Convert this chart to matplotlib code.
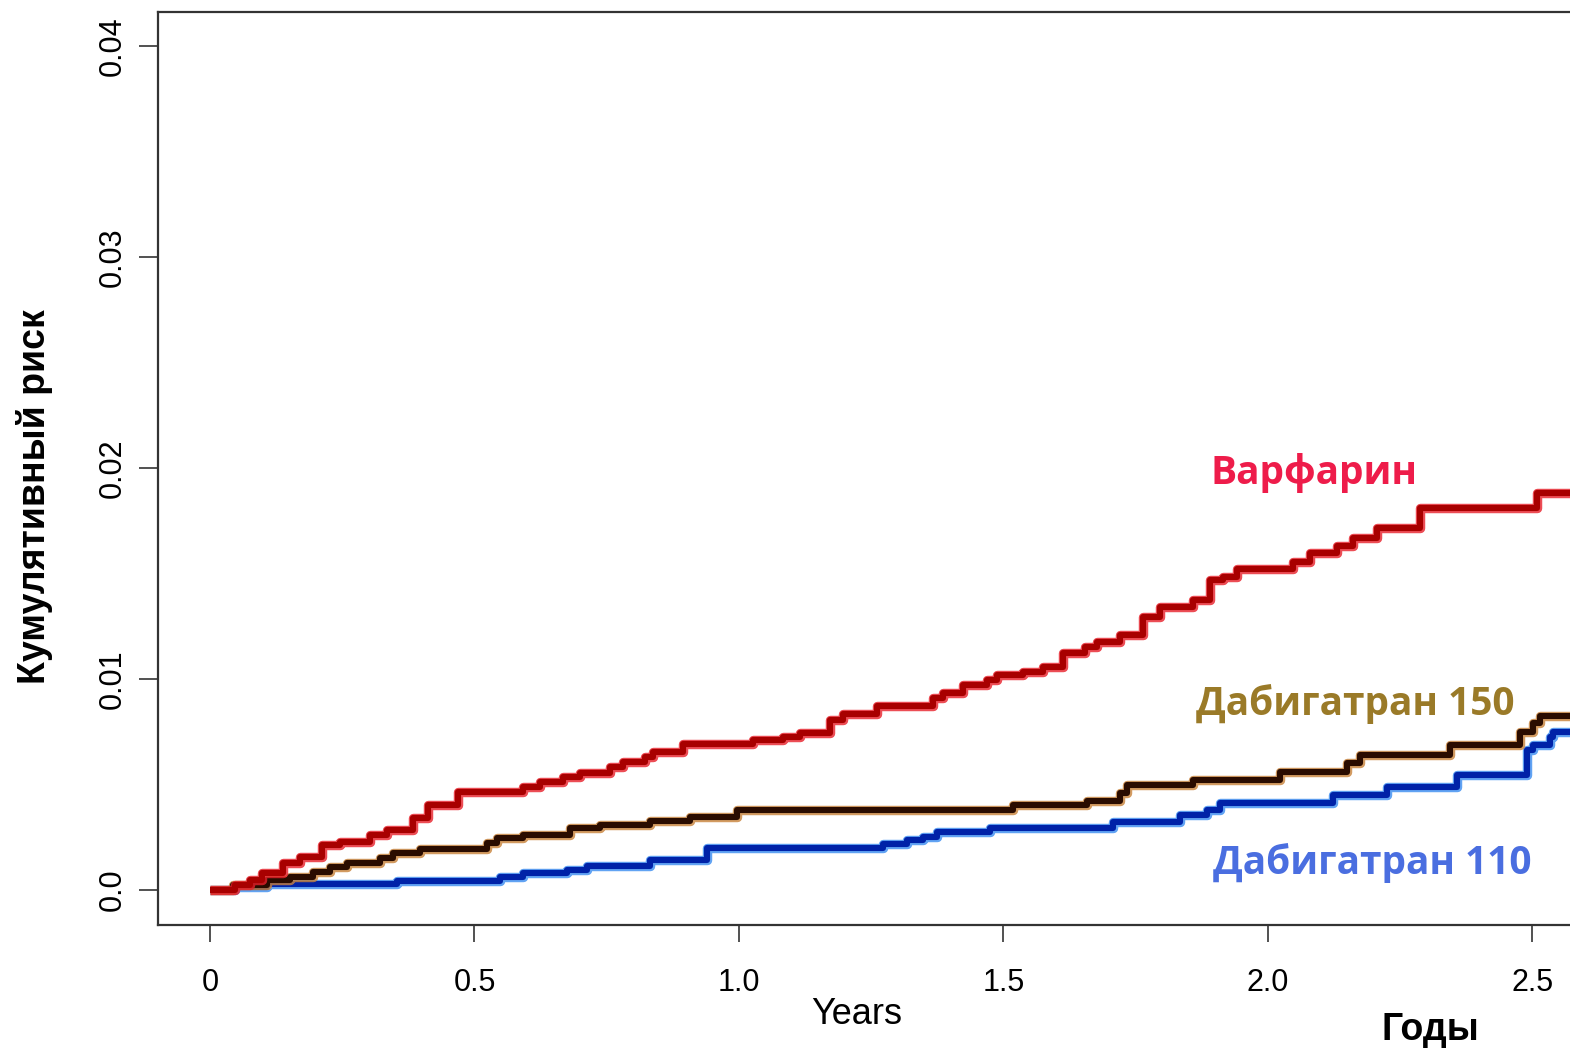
import matplotlib
matplotlib.use("Agg")
import matplotlib.pyplot as plt
import numpy as np

# ---- data (years, cumulative risk) ----
warf_t = [0.000, 0.047, 0.076, 0.098, 0.138, 0.170, 0.212, 0.246, 0.302, 0.335,
          0.384, 0.412, 0.469, 0.592, 0.624, 0.667, 0.699, 0.756, 0.781, 0.822,
          0.837, 0.894, 1.026, 1.083, 1.115, 1.172, 1.197, 1.261, 1.367, 1.386,
          1.423, 1.469, 1.488, 1.537, 1.575, 1.612, 1.654, 1.677, 1.720, 1.764,
          1.796, 1.858, 1.890, 1.915, 1.941, 2.047, 2.079, 2.130, 2.161, 2.206,
          2.287, 2.509, 2.700]
warf_y = [0.0000, 0.00024, 0.00047, 0.00081, 0.00128, 0.00156, 0.00213, 0.00227, 0.00261, 0.00284,
          0.00341, 0.00403, 0.00464, 0.00488, 0.00512, 0.00536, 0.00555, 0.00583, 0.00607, 0.00630,
          0.00654, 0.00692, 0.00711, 0.00725, 0.00744, 0.00806, 0.00834, 0.00872, 0.00910, 0.00934,
          0.00972, 0.00995, 0.01019, 0.01033, 0.01057, 0.01123, 0.01152, 0.01175, 0.01209, 0.01294,
          0.01341, 0.01374, 0.01469, 0.01483, 0.01521, 0.01555, 0.01597, 0.01630, 0.01668, 0.01716,
          0.01810, 0.01882, 0.01882]

d150_t = [0.000, 0.043, 0.108, 0.151, 0.195, 0.227, 0.259, 0.321, 0.346, 0.397,
          0.524, 0.543, 0.592, 0.681, 0.737, 0.832, 0.907, 0.996, 1.518, 1.658,
          1.720, 1.733, 1.858, 2.023, 2.149, 2.174, 2.344, 2.476, 2.501, 2.514, 2.700]
d150_y = [0.0000, 0.00024, 0.00047, 0.00062, 0.00085, 0.00109, 0.00128, 0.00152, 0.00175, 0.00194,
          0.00223, 0.00246, 0.00261, 0.00294, 0.00308, 0.00327, 0.00346, 0.00379, 0.00403, 0.00422,
          0.00460, 0.00498, 0.00521, 0.00559, 0.00602, 0.00640, 0.00687, 0.00749, 0.00791, 0.00825, 0.00825]

d110_t = [0.000, 0.047, 0.108, 0.353, 0.548, 0.592, 0.675, 0.713, 0.832, 0.940,
          1.272, 1.318, 1.348, 1.374, 1.474, 1.707, 1.834, 1.885, 1.909, 2.123,
          2.225, 2.357, 2.490, 2.501, 2.533, 2.539, 2.700]
d110_y = [0.0000, 0.00014, 0.00028, 0.00043, 0.00062, 0.00081, 0.00095, 0.00114, 0.00142, 0.00199,
          0.00218, 0.00237, 0.00251, 0.00275, 0.00294, 0.00322, 0.00355, 0.00379, 0.00412, 0.00450,
          0.00488, 0.00545, 0.00664, 0.00687, 0.00725, 0.00749, 0.00749]

x_ticks = [0, 0.5, 1.0, 1.5, 2.0, 2.5]
x_ticklabels = ["0", "0.5", "1.0", "1.5", "2.0", "2.5"]
y_ticks = [0.0, 0.01, 0.02, 0.03, 0.04]
y_ticklabels = ["0.0", "0.01", "0.02", "0.03", "0.04"]

W, H = 1570, 1054
fig = plt.figure(figsize=(W / 100, H / 100), dpi=100)
fig.patch.set_facecolor("white")

left_px, right_px, top_px, bottom_px = 158, 1620, 12, 925
ax = fig.add_axes([left_px / W, 1 - bottom_px / H,
                   (right_px - left_px) / W, (bottom_px - top_px) / H])

x0_px, px_per_year = 210, 529
y0_px, px_per_unit = 890, 21100
ax.set_xlim((left_px - x0_px) / px_per_year, (right_px - x0_px) / px_per_year)
ax.set_ylim(-(bottom_px - y0_px) / px_per_unit, (y0_px - top_px) / px_per_unit)

series = [
    (d110_t, d110_y, "#3a8cf0", "#0022a8"),
    (d150_t, d150_y, "#c8823a", "#2a0c00"),
    (warf_t, warf_y, "#e8202a", "#a80000"),
]
for t, y, outer, inner in series:
    ax.step(t, y, where="post", color=outer, lw=6.8, solid_joinstyle="round",
            solid_capstyle="butt", alpha=0.8)
    ax.step(t, y, where="post", color=inner, lw=4.4, solid_joinstyle="round",
            solid_capstyle="butt")

ax.set_xticks(x_ticks)
ax.set_xticklabels(x_ticklabels, family="Liberation Sans", fontsize=22)
ax.set_yticks(y_ticks)
ax.set_yticklabels(y_ticklabels, family="Liberation Sans", fontsize=22,
                   rotation=90, va="center")
ax.tick_params(axis="x", length=12, width=1.2, color="#333333", pad=19)
ax.tick_params(axis="y", length=14, width=1.2, color="#333333", pad=8)
for s in ax.spines.values():
    s.set_color("#333333")
    s.set_linewidth(1.6)

# curve labels
lab_font = "Open Sans"
ax.text((1314 - x0_px) / px_per_year, (y0_px - 473) / px_per_unit, "Варфарин",
        color="#ee1c4a", fontsize=28, fontweight="bold", family=lab_font,
        ha="center", va="center")
ax.text((1355 - x0_px) / px_per_year, (y0_px - 704) / px_per_unit, "Дабигатран 150",
        color="#9a7a28", fontsize=28, fontweight="bold", family=lab_font,
        ha="center", va="center")
ax.text((1372 - x0_px) / px_per_year, (y0_px - 863) / px_per_unit, "Дабигатран 110",
        color="#4a6ee0", fontsize=28, fontweight="bold", family=lab_font,
        ha="center", va="center")

# axis titles
fig.text(857 / W, 1 - 1015 / H, "Years", family="Liberation Sans", fontsize=26,
         ha="center", va="center")
fig.text(1430 / W, 1 - 1030 / H, "Годы", family="Liberation Sans", fontsize=27,
         fontweight="bold", ha="center", va="center")
fig.text(35 / W, 1 - 497 / H, "Кумулятивный риск", family="Liberation Sans",
         fontsize=27, fontweight="bold", rotation=90, ha="center", va="center")

fig.savefig("out.png", dpi=100, facecolor="white")
